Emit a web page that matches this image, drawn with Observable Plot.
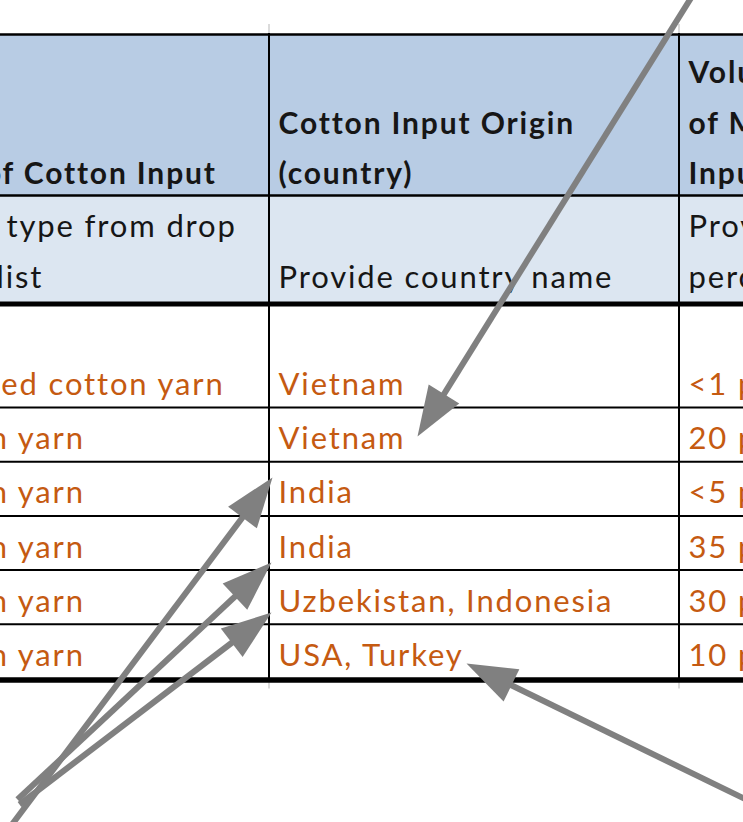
<!DOCTYPE html>
<html><head><meta charset="utf-8">
<script src="https://cdn.jsdelivr.net/npm/d3@7"></script>
<script src="https://cdn.jsdelivr.net/npm/@observablehq/plot@0.6"></script>
<style>
html,body{margin:0;padding:0;background:#fff;overflow:hidden;width:743px;height:822px}
#chart svg{display:block}
</style>
</head><body><div id="chart"></div>
<script>
// ---- table content ----
const headerType = ["Type of Cotton Input"];
const headerOrigin = ["Cotton Input Origin", "(country)"];
const headerVolume = ["Volume", "of Material", "Input"];
const hintType = ["Select type from drop", "down list"];
const hintOrigin = ["Provide country name"];
const hintVolume = ["Provide", "percentage"];
const inputTypes = ["Recycled cotton yarn", "Cotton yarn", "Cotton yarn", "Cotton yarn", "Cotton yarn", "Cotton yarn"];
const inputOrigins = ["Vietnam", "Vietnam", "India", "India", "Uzbekistan, Indonesia", "USA, Turkey"];
const inputVolumes = ["<1 percent", "20 percent", "<5 percent", "35 percent", "30 percent", "10 percent"];

// ---- annotation arrows (tail -> tip, page pixels) ----
const arrowTails = [[692, -5], [7, 830], [17, 799], [19, 804], [760, 806]];
const arrowTips  = [[417, 436], [272, 477], [271, 562], [271, 612], [466, 663]];

// ---- layout ----
const W = 743, H = 822;
const colEdges = [-107, 268.5, 678.5];
const padX = 9.5;
const tableTop = 34, headerBottom = 195, hintBottom = 303.5;
const firstRowBottom = 407, rowStep = 54.2;
const lineStep = 50.5;
const fontSize = 31, boldSize = 30;
const headFill = "#b8cce4", hintFill = "#dce6f1", orange = "#c55a11", ink = "#161616", arrowGray = "#808080";

const rowBottoms = inputTypes.map((_, i) => firstRowBottom + i * rowStep);
const tableBottom = rowBottoms[rowBottoms.length - 1] + 1.5;

function linesIn(col, lines, bottomBaseline) {
  const n = lines.length;
  return lines.map((t, i) => ({text: t, x: colEdges[col] + padX, y: bottomBaseline - (n - 1 - i) * lineStep}));
}
const headerText = [
  ...linesIn(0, headerType, headerBottom - 11.5),
  ...linesIn(1, headerOrigin, headerBottom - 11.5),
  ...linesIn(2, headerVolume, headerBottom - 11.5)
];
const hintText = [
  ...linesIn(0, hintType, hintBottom - 16.5),
  ...linesIn(1, hintOrigin, hintBottom - 16.5),
  ...linesIn(2, hintVolume, hintBottom - 16.5)
];
const dataText = [];
[inputTypes, inputOrigins, inputVolumes].forEach((arr, col) =>
  arr.forEach((t, i) => dataText.push({text: t, x: colEdges[col] + padX, y: rowBottoms[i] - 12.5}))
);

const bands = [
  {y1: tableTop, y2: headerBottom, fill: headFill},
  {y1: headerBottom, y2: hintBottom, fill: hintFill}
];
const hLines = [
  {y: tableTop, w: 2.5}, {y: headerBottom, w: 2.5}, {y: hintBottom, w: 5},
  ...rowBottoms.slice(0, -1).map(y => ({y, w: 2})),
  {y: tableBottom, w: 5.5}
];

const headLen = 50, headHalf = 18;
const arrows = arrowTails.map((t, i) => {
  const [x1, y1] = t, [x2, y2] = arrowTips[i];
  const dx = x2 - x1, dy = y2 - y1, L = Math.hypot(dx, dy);
  return {
    x1, y1, x2, y2,
    bx: x2 - dx / L * headLen * 0.8, by: y2 - dy / L * headLen * 0.8,
    angle: Math.atan2(dx, -dy) * 180 / Math.PI
  };
});

const chart = Plot.plot({
  width: W, height: H, margin: 0,
  x: {domain: [0, W], range: [0, W], axis: null},
  y: {domain: [0, H], range: [0, H], axis: null},
  style: {fontFamily: "Lato, 'Open Sans', sans-serif", letterSpacing: "1.85px", background: "#fff", overflow: "hidden"},
  marks: [
    Plot.rect(bands, {x1: -20, x2: W + 20, y1: "y1", y2: "y2", fill: "fill"}),
    Plot.ruleX(colEdges.slice(1), {y1: tableTop - 10, y2: tableTop, stroke: "#cfcfcf", strokeWidth: 1.5}),
    Plot.ruleX(colEdges.slice(1), {y1: tableBottom, y2: tableBottom + 9, stroke: "#cfcfcf", strokeWidth: 1.5}),
    Plot.ruleX(colEdges.slice(1), {y1: tableTop - 1, y2: tableBottom + 2, stroke: "#000", strokeWidth: 2}),
    Plot.ruleY(hLines, {y: "y", x1: -20, x2: W + 20, stroke: "#000", strokeWidth: "w"}),
    Plot.text(headerText, {x: "x", y: "y", text: "text", textAnchor: "start", lineAnchor: "bottom", fontSize: boldSize, fontWeight: "bold", fill: ink}),
    Plot.text(hintText, {x: "x", y: "y", text: "text", textAnchor: "start", lineAnchor: "bottom", fontSize, fill: ink}),
    Plot.text(dataText, {x: "x", y: "y", text: "text", textAnchor: "start", lineAnchor: "bottom", fontSize, fill: orange}),
    Plot.link(arrows, {x1: "x1", y1: "y1", x2: "bx", y2: "by", stroke: arrowGray, strokeWidth: 6}),
    Plot.vector(arrows, {x: "x2", y: "y2", rotate: "angle", length: headLen, r: headHalf, shape: "spike", anchor: "end", fill: arrowGray, stroke: "none"})
  ]
});
document.getElementById("chart").appendChild(chart);
</script>
</body></html>
